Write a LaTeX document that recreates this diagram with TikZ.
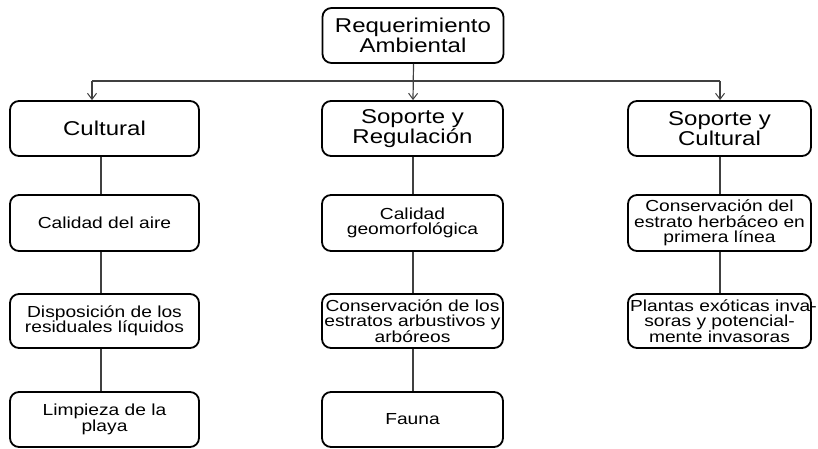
\documentclass[tikz,border=0pt]{standalone}
\usepackage{fontspec}
\setmainfont{Liberation Sans}[FakeStretch=1.2]
\usetikzlibrary{arrows.meta}
\begin{document}
\begin{tikzpicture}[x=1pt,y=-1pt,
  box/.style={draw=black, line width=1.8pt, rounded corners=9pt, fill=white, align=center, inner sep=1pt},
  bigbox/.style={box, font=\fontsize{20}{19.5}\selectfont},
  smallbox/.style={box, font=\fontsize{16}{15.5}\selectfont},
  conn/.style={draw=black!75, line width=1.2pt},
  arr/.style={conn, -{Straight Barb[length=6pt,width=9pt,line width=1pt]}}]
\useasboundingbox (0,0) rectangle (818,449);
% top
\node[bigbox, minimum width=181pt, minimum height=55pt] (top) at (413,35.5) {Requerimiento\\Ambiental};
% level 1
\node[bigbox, minimum width=189pt, minimum height=55pt] (cul) at (104.5,128.5) {Cultural};
\node[bigbox, minimum width=181pt, minimum height=55pt] (sr) at (412.5,128.5) {Soporte y\\Regulación};
\node[bigbox, minimum width=183pt, minimum height=55pt] (sc) at (719.5,128.5) {Soporte y\\Cultural};
% level 2
\node[smallbox, minimum width=189pt, minimum height=56pt] (aire) at (104.5,223) {Calidad del aire};
\node[smallbox, minimum width=181pt, minimum height=56pt] (geo) at (412.5,223) {Calidad\\geomorfológica};
\node[smallbox, minimum width=183pt, minimum height=56pt] (herb) at (719.5,223) {Conservación del\\estrato herbáceo en\\primera línea};
% level 3
\node[smallbox, minimum width=189pt, minimum height=54pt] (disp) at (104.5,321) {Disposición de los\\residuales líquidos};
\node[smallbox, minimum width=181pt, minimum height=54pt] (arb) at (412.5,321) {Conservación de los\\estratos arbustivos y\\arbóreos};
\node[smallbox, text width=179pt, inner sep=2pt, minimum height=54pt] (pla) at (719.5,321) {\mbox{Plantas exóticas inva-}\\soras y potencial-\\mente invasoras};
% level 4
\node[smallbox, minimum width=189pt, minimum height=55pt] (lim) at (104.5,419.5) {Limpieza de la\\playa};
\node[smallbox, minimum width=181pt, minimum height=55pt] (fau) at (412.5,419.5) {Fauna};
% tree connectors
\coordinate (hl) at (92,81);
\coordinate (hr) at (720,81);
\draw[conn] (hl) -- (hr);
\draw[arr] ([xshift=0.5pt]top.south) -- ([xshift=0.5pt]sr.north);
\draw[arr] (hl) -- (hl |- cul.north);
\draw[arr] (hr) -- (hr |- sc.north);
% column connectors
\draw[conn] ([xshift=-3.5pt]cul.south) -- ([xshift=-3.5pt]aire.north);
\draw[conn] ([xshift=-3.5pt]aire.south) -- ([xshift=-3.5pt]disp.north);
\draw[conn] ([xshift=-3.5pt]disp.south) -- ([xshift=-3.5pt]lim.north);
\draw[conn] ([xshift=0.5pt]sr.south) -- ([xshift=0.5pt]geo.north);
\draw[conn] ([xshift=0.5pt]geo.south) -- ([xshift=0.5pt]arb.north);
\draw[conn] ([xshift=0.5pt]arb.south) -- ([xshift=0.5pt]fau.north);
\draw[conn] ([xshift=0.5pt]sc.south) -- ([xshift=0.5pt]herb.north);
\draw[conn] ([xshift=0.5pt]herb.south) -- ([xshift=0.5pt]pla.north);
\end{tikzpicture}
\end{document}
